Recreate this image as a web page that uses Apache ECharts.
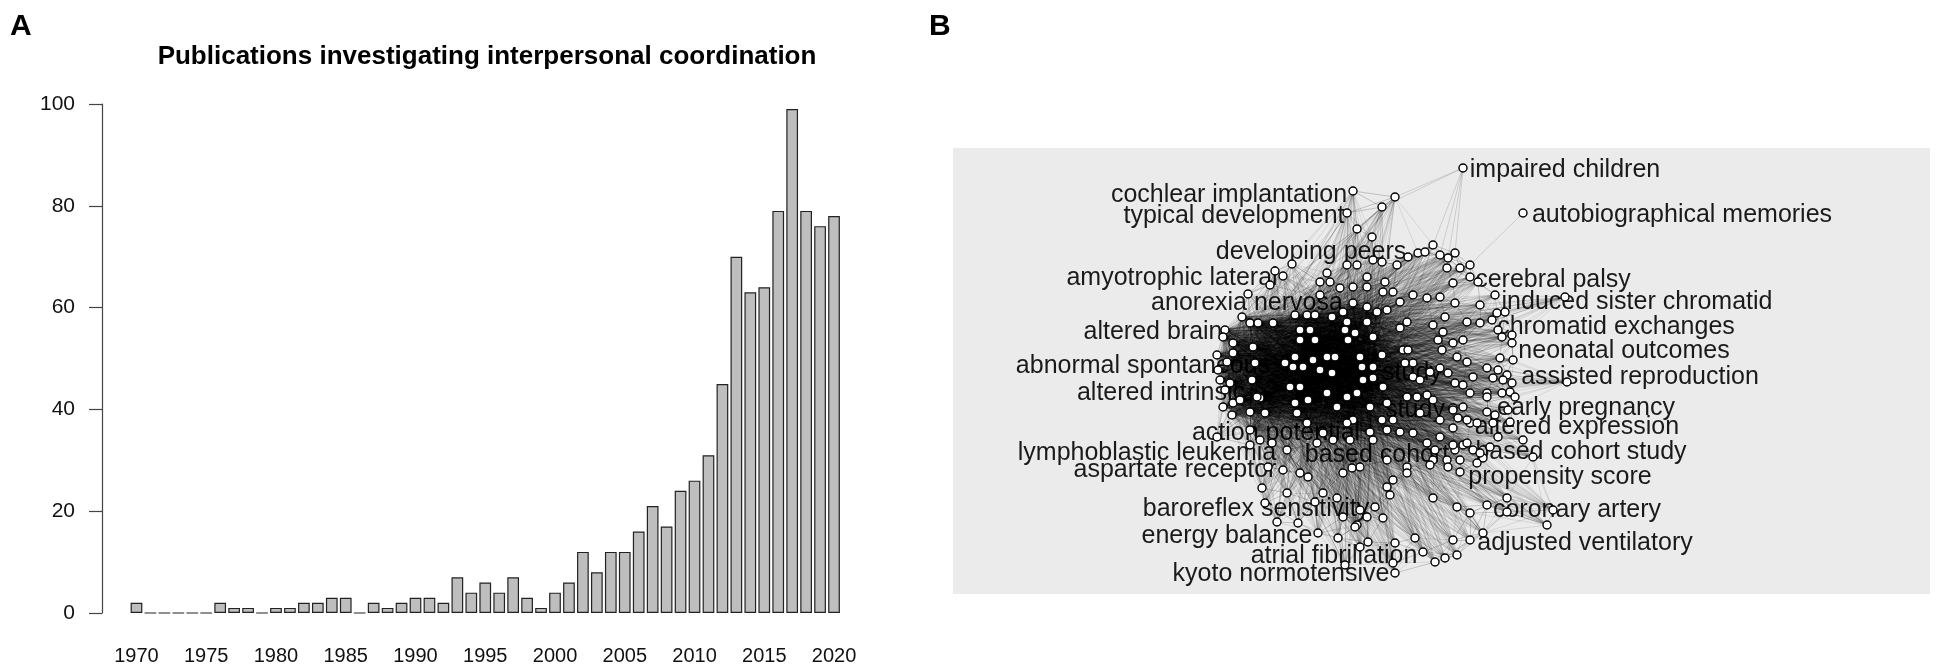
<!DOCTYPE html>
<html>
<head>
<meta charset="utf-8">
<title>Publications investigating interpersonal coordination</title>
<script src="https://cdn.jsdelivr.net/npm/echarts@6/dist/echarts.min.js"></script>
<style>
  html, body { margin: 0; padding: 0; background: #fff; }
  #chart { width: 1937px; height: 667px; }
</style>
</head>
<body>
<div id="chart"></div>
<script>
// ---- Panel A: yearly publication counts ----
var years = ['1970','1971','1972','1973','1974','1975','1976','1977','1978','1979',
  '1980','1981','1982','1983','1984','1985','1986','1987','1988','1989',
  '1990','1991','1992','1993','1994','1995','1996','1997','1998','1999',
  '2000','2001','2002','2003','2004','2005','2006','2007','2008','2009',
  '2010','2011','2012','2013','2014','2015','2016','2017','2018','2019','2020'];
var counts = [2,0,0,0,0,0,2,1,1,0,
  1,1,2,2,3,3,0,2,1,2,
  3,3,2,7,4,6,4,7,3,1,
  4,6,12,8,12,12,16,21,17,24,
  26,31,45,70,63,64,79,99,79,76,78];
var yTicks = [0, 20, 40, 60, 80, 100];

// ---- Panel B: keyword network (layout coordinates) ----
var coreNodes = [
  [1242,317],[1250,323],[1258,323],[1273,323],[1225,330],[1223,337],[1233,343],[1217,355],[1227,362],[1218,370],
  [1220,380],[1230,383],[1223,407],[1232,415],[1265,413],[1260,398],
  [1295,315],[1307,315],[1315,315],[1332,317],[1343,312],[1367,307],[1353,303],[1347,322],[1367,322],[1377,312],
  [1233,353],[1225,390],[1233,403],[1240,400],[1250,412],
  [1253,347],[1255,363],[1252,380],[1257,397],[1285,363],[1295,357],[1300,330],[1310,330],[1300,340],[1315,340],
  [1293,367],[1303,367],[1313,360],[1327,357],[1335,357],[1320,370],[1332,373],[1345,330],[1355,333],[1348,340],
  [1373,337],[1382,355],[1373,367],[1362,367],[1360,357],[1363,380],[1373,378],[1383,387],[1290,387],[1300,387],
  [1295,403],[1308,400],[1297,413],[1327,393],[1337,407],[1347,397],[1357,393],[1353,420],[1347,423],[1370,407],
  [1250,430],[1307,423],[1323,433],[1370,432]
];
var rimNodes = [
  [1353,191],[1395,197],[1382,207],[1347,213],[1357,229],[1372,237],[1292,264],[1275,271],[1283,276],[1270,285],[1248,294],
  [1327,273],[1320,282],[1330,282],[1347,265],[1357,265],[1373,260],[1382,262],[1397,265],[1408,257],[1418,253],[1425,252],
  [1433,245],[1440,255],[1448,258],[1447,268],[1455,253],[1460,268],[1470,265],[1470,277],[1478,282],[1453,283],
  [1367,277],[1385,282],[1383,292],[1393,292],[1400,302],[1413,295],[1427,298],[1440,297],[1455,303],[1480,305],[1495,295],[1565,297],
  [1340,288],[1353,287],[1367,287],[1320,295],
  [1387,310],[1400,328],[1407,322],[1433,325],[1443,332],[1445,317],[1467,322],[1480,323],[1492,320],[1497,313],[1505,312],
  [1498,330],[1502,337],[1512,335],[1438,340],[1453,343],[1463,340],[1512,343],[1500,358],[1513,360],[1442,350],[1457,357],
  [1467,362],[1440,368],[1487,368],[1498,370],[1403,350],[1408,350],[1413,363],[1405,363],[1413,377],[1420,380],[1430,372],
  [1448,373],[1455,383],[1473,377],[1493,378],[1507,375],[1567,382],[1463,385],[1470,393],[1487,393],[1502,393],[1510,392],
  [1453,408],[1463,407],[1487,412],[1495,415],[1440,420],[1458,418],[1470,423],[1510,422],[1453,428],[1498,437],[1523,440],
  [1463,445],[1455,450],[1435,450],[1473,450],[1483,458],[1447,460],[1477,463],[1533,457],[1460,472],[1448,467],
  [1433,498],[1457,507],[1470,513],[1487,505],[1507,498],[1507,512],[1547,525],[1553,510],[1453,540],[1470,540],[1483,533],
  [1435,562],[1445,558],[1457,555],
  [1503,380],[1512,383],[1515,397],[1508,410],[1387,403],[1382,420],[1393,420],[1407,397],[1417,397],[1427,395],[1433,400],
  [1420,413],[1453,410],[1467,420],[1477,423],[1487,397],[1493,423],
  [1260,440],[1272,443],[1287,450],[1317,443],[1333,440],[1350,440],[1373,440],[1387,430],[1400,432],[1413,433],[1427,443],
  [1440,437],[1453,445],[1467,443],[1480,453],[1490,447],[1460,460],[1433,460],[1407,467],[1387,460],[1360,467],[1343,473],
  [1300,473],[1283,470],
  [1217,437],[1250,445],[1268,467],[1308,477],[1262,488],[1287,493],[1323,493],[1337,498],[1265,503],[1277,522],[1298,523],
  [1315,502],[1357,525],[1367,517],[1383,518],[1375,507],[1318,533],[1338,538],[1368,542],[1395,543],[1415,538],[1423,552],
  [1345,565],[1393,563],[1395,573],
  [1352,468],[1407,473],[1393,480],[1387,487],[1390,495],[1430,465],[1360,510],[1343,517],[1355,527],[1360,547]
];
var outerNodes = [[1463,168],[1523,213]];
var outerDegree = [6, 1];

var keywordNames = ['cochlear implantation','typical development','developing peers','amyotrophic lateral',
  'anorexia nervosa','altered brain','abnormal spontaneous','altered intrinsic','action potential',
  'lymphoblastic leukemia','aspartate receptor','based cohort','baroreflex sensitivity','energy balance',
  'atrial fibrillation','kyoto normotensive','impaired children','autobiographical memories','cerebral palsy',
  'induced sister chromatid','chromatid exchanges','neonatal outcomes','assisted reproduction','early pregnancy',
  'altered expression','based cohort study','propensity score','coronary artery','adjusted ventilatory',
  'study','study'];
var keywordPos = [[1229,195],[1234,216],[1311,252],[1172,278],
  [1247,303],[1153,332],[1143,366],[1161,393],[1276,433],
  [1147,453],[1175,470],[1377,455],[1256,509],[1227,536],
  [1334,556],[1281,574],[1565,170],[1682,215],[1553,280],
  [1637,302],[1616,327],[1624,351],[1640,377],[1586,408],
  [1577,427],[1581,452],[1560,477],[1577,510],[1585,543],
  [1412,373],[1415,410]];

// build graph
var nodes = coreNodes.concat(rimNodes, outerNodes);
var nCore = coreNodes.length;
var nRim = rimNodes.length;
var links = [];
var i, j;
for (i = 0; i < nCore; i++) {
  for (j = i + 1; j < nCore; j++) {
    links.push({ source: i, target: j });
  }
}
var rimStyle = { opacity: 0.12, width: 0.8 };
function nearest(idx, k, pool) {
  var p = nodes[idx];
  return pool.filter(function(q) { return q !== idx; })
    .sort(function(a, b) {
      var da = Math.pow(nodes[a][0] - p[0], 2) + Math.pow(nodes[a][1] - p[1], 2);
      var db = Math.pow(nodes[b][0] - p[0], 2) + Math.pow(nodes[b][1] - p[1], 2);
      return da - db;
    }).slice(0, k);
}
var allIdx = nodes.map(function(d, k) { return k; });
var rimIdx = allIdx.slice(nCore, nCore + nRim);
rimNodes.forEach(function(p, r) {
  var idx = nCore + r;
  for (j = r % 4; j < nCore; j += 4) {
    links.push({ source: idx, target: j, lineStyle: rimStyle });
  }
  nearest(idx, 7, allIdx.slice(0, nCore + nRim)).forEach(function(t) {
    links.push({ source: idx, target: t, lineStyle: rimStyle });
  });
});
outerNodes.forEach(function(p, o) {
  var idx = nCore + nRim + o;
  nearest(idx, outerDegree[o], rimIdx).forEach(function(t) {
    links.push({ source: idx, target: t, lineStyle: { opacity: 0.15 } });
  });
});

var FONT = '"Liberation Sans", Arial, Helvetica, sans-serif';
var chart = echarts.init(document.getElementById('chart'));

var option = {
  animation: false,
  backgroundColor: '#fff',
  graphic: [
    { type: 'text', x: 10, y: 27, style: { text: 'A', font: 'bold 30px ' + FONT, fill: '#000',
      textAlign: 'left', align: 'left', textVerticalAlign: 'middle', verticalAlign: 'middle' } },
    { type: 'text', x: 929, y: 27, style: { text: 'B', font: 'bold 30px ' + FONT, fill: '#000',
      textAlign: 'left', align: 'left', textVerticalAlign: 'middle', verticalAlign: 'middle' } },
    { type: 'text', x: 487, y: 57, style: { text: 'Publications investigating interpersonal coordination',
      font: 'bold 26px ' + FONT, fill: '#000',
      textAlign: 'center', align: 'center', textVerticalAlign: 'middle', verticalAlign: 'middle' } }
  ],
  grid: [
    { left: 129.5, top: 104, width: 711.5, height: 509, show: false },
    { left: 953, top: 148, width: 977, height: 446, show: true, backgroundColor: '#ebebeb', borderWidth: 0 }
  ],
  xAxis: [
    {
      type: 'category', gridIndex: 0, data: years,
      axisLine: { show: false }, axisTick: { show: false }, splitLine: { show: false },
      axisLabel: { interval: 4, margin: 33, fontSize: 20, color: '#111', fontFamily: FONT }
    },
    { type: 'value', gridIndex: 1, min: 953, max: 1930, show: false }
  ],
  yAxis: [
    {
      type: 'value', gridIndex: 0, min: 0, max: 100, interval: 20, offset: 27.5,
      axisLine: { show: true, lineStyle: { color: '#444', width: 1.2 } },
      axisTick: { show: true, length: 13, lineStyle: { color: '#444', width: 1.2 } },
      splitLine: { show: false },
      axisLabel: { margin: 27, fontSize: 21, color: '#111', fontFamily: FONT,
        customValues: yTicks }
    },
    { type: 'value', gridIndex: 1, min: 148, max: 594, inverse: true, show: false }
  ],
  series: [
    {
      type: 'bar', xAxisIndex: 0, yAxisIndex: 0, data: counts,
      barWidth: '84%',
      itemStyle: { color: '#bebebe', borderColor: '#222', borderWidth: 1.2 },
      silent: true
    },
    {
      type: 'scatter', xAxisIndex: 1, yAxisIndex: 1, z: 1,
      symbolSize: 1, itemStyle: { color: 'rgba(0,0,0,0)', opacity: 1 }, silent: true,
      data: keywordNames.map(function(n, k) { return { name: n, value: keywordPos[k] }; }),
      label: { show: true, position: 'inside', formatter: '{b}', fontSize: 25, color: '#1a1a1a',
        fontFamily: FONT, opacity: 1 }
    },
    {
      type: 'graph', coordinateSystem: 'cartesian2d', xAxisIndex: 1, yAxisIndex: 1, z: 3,
      silent: true, roam: false,
      symbol: 'circle', symbolSize: 8,
      itemStyle: { color: '#fff', borderColor: '#000', borderWidth: 1.4 },
      lineStyle: { color: '#000', width: 0.9, opacity: 0.12, curveness: 0 },
      label: { show: false },
      data: nodes.map(function(p) { return { value: p }; }),
      links: links
    }
  ]
};
chart.setOption(option);
</script>
</body>
</html>
